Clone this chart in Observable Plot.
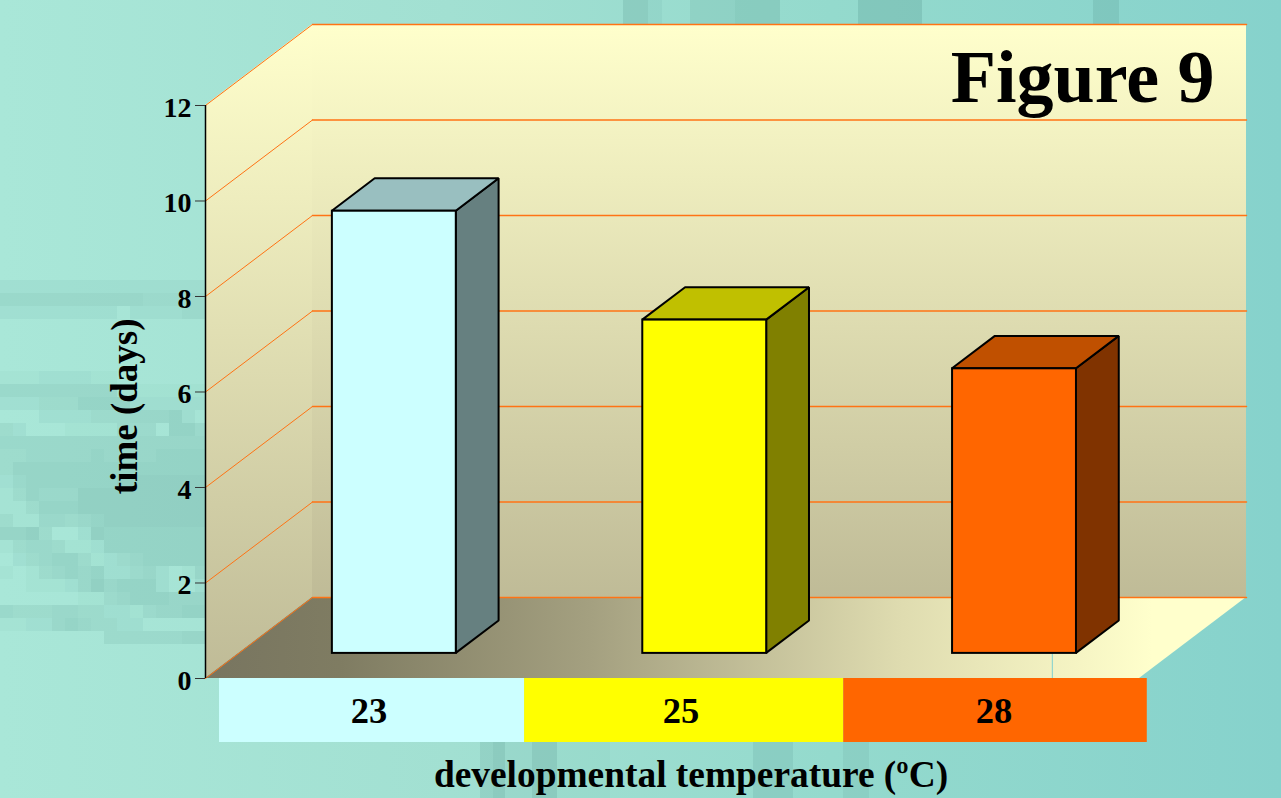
<!DOCTYPE html>
<html>
<head>
<meta charset="utf-8">
<script src="https://cdn.jsdelivr.net/npm/d3@7"></script>
<script src="https://cdn.jsdelivr.net/npm/@observablehq/plot@0.6"></script>
<style>
  html, body { margin: 0; padding: 0; overflow: hidden; }
  body { width: 1281px; height: 798px; position: relative;
         background: linear-gradient(90deg, #a9e7d8 0%, #a2e0d2 35%, #94dacd 65%, #86d2cc 100%); }
  #texture { position: absolute; inset: 0; }
  #texture div { position: absolute; background: #4f8f86; }
  #chart { position: absolute; left: 0; top: 0; }
</style>
</head>
<body>
<div id="texture"></div>
<div id="chart"></div>
<script>
// Chart values
const temperatures = ["23", "25", "28"];
const days = [9.26, 6.98, 5.96];
const barCentres = [0.5, 1.497, 2.492];
const frontColors = ["#ccffff", "#ffff00", "#ff6600"];
const topColors = ["#99bfc0", "#c0c000", "#c05000"];
const sideColors = ["#668080", "#808000", "#803300"];
const yTicks = [0, 2, 4, 6, 8, 10, 12];

// Oblique projection: one unit of depth moves along both scales.
const depthX = 0.3437;   // category slots per unit of depth
const depthY = 1.696;    // days per unit of depth
const barHalfWidth = 0.199;
const barFront = 0.31;
const barBack = 0.71;
const px = (s, d) => s + d * depthX;
const py = (v, d) => v + d * depthY;

// Colour table under the floor, in category-slot and day units.
const tableEdges = [0.045, 1.025, 2.05, 3.025];
const tableBottom = -1.34;
const tableCentres = [0.525, 1.527, 2.533];

// Blocky mottling of the page backdrop. Each digit is the strength of one 13px cell.
const mottleLeft = [
  "2222222222222222",
  "4444444444433333",
  "2222222220222233",
  "0000000000000000",
  "0000000000000000",
  "0000000000000000",
  "0000000000000000",
  "1112222110000000",
  "4444444441111111",
  "2223335555222222",
  "0002222333444520",
  "3200011113330553",
  "4444444444444444",
  "3344444544445555",
  "3555555555555555",
  "2455555556666666",
  "1354446666666666",
  "1135556666666666",
  "3114434566666666",
  "5563002655555555",
  "1344311255555555",
  "0234553123455555",
  "1013454522342014",
  "0011124645552002",
  "0000001134555444",
  "4333443322134455",
  "1122454332200000",
  "0000000033333344"
];
// Vertical strips along the top and bottom edges: left, width, strength.
const mottleTop = [[623,25,5],[648,14,2],[690,45,3],[735,45,5],[858,64,6],[1093,26,5]];
const mottleBottom = [[480,13,4],[493,12,6],[505,27,2],[532,25,6],[557,53,1],[753,40,4],[843,26,3]];

const texture = document.getElementById("texture");
function addBlock(l, t, w, h, strength) {
  if (!strength) return;
  const block = document.createElement("div");
  block.style.cssText = `left:${l}px;top:${t}px;width:${w}px;height:${h}px;opacity:${strength * 0.04}`;
  texture.appendChild(block);
}
mottleLeft.forEach((row, r) => {
  [...row].forEach((c, i) => addBlock(i * 13, 280 + r * 13, 13, 13, +c));
});
for (const [l, w, s] of mottleTop) addBlock(l, 0, w, 24, s);
for (const [l, w, s] of mottleBottom) addBlock(l, 742, w, 56, s);

// Gradient definitions for the walls and floor.
function gradients() {
  const defs = d3.create("svg:defs");
  const wall = defs.append("linearGradient").attr("id", "wall")
    .attr("x1", 0).attr("y1", 0).attr("x2", 0).attr("y2", 1);
  wall.append("stop").attr("offset", 0).attr("stop-color", "#ffffcc");
  wall.append("stop").attr("offset", 1).attr("stop-color", "#bfbb97");
  const floor = defs.append("linearGradient").attr("id", "floor")
    .attr("x1", 0).attr("y1", 0).attr("x2", 1).attr("y2", 0);
  const floorStops = [[0, "#787560"], [0.13, "#7f7c62"], [0.37, "#a4a080"], [0.67, "#dfdcb0"], [0.91, "#ffffcc"], [1, "#ffffcc"]];
  for (const [o, c] of floorStops) floor.append("stop").attr("offset", o).attr("stop-color", c);
  return defs.node();
}

const slots = temperatures.length;
const bars = temperatures.map((t, i) => ({
  x1: barCentres[i] - barHalfWidth, x2: barCentres[i] + barHalfWidth, v: days[i],
  front: frontColors[i], top: topColors[i], side: sideColors[i]
}));
const barStroke = { stroke: "#000", strokeWidth: 2, strokeLinejoin: "miter" };
const gridColor = "#ff7314";

const plot = Plot.plot({
  width: 1281, height: 798,
  marginLeft: 205, marginRight: 35, marginTop: 24, marginBottom: 120,
  x: { domain: [0, slots + depthX], axis: null },
  y: { domain: [0, 12 + depthY], axis: null },
  style: { background: "transparent", fontFamily: "'Liberation Serif', serif", fontWeight: "bold", color: "#000" },
  marks: [
    gradients,
    // Back wall
    Plot.rect([0], { x1: px(0, 1), x2: px(slots, 1), y1: py(0, 1), y2: py(12, 1), fill: "url(#wall)" }),
    // Side wall
    Plot.areaY([0, 1], { x: d => px(0, d), y1: d => py(0, d), y2: d => py(12, d), fill: "url(#wall)" }),
    // Floor
    Plot.areaX([0, 1], { y: d => py(0, d), x1: d => px(0, d), x2: d => px(slots, d), fill: "url(#floor)" }),
    // Gridlines along the back wall and the side wall
    ...yTicks.map(v => Plot.line([px(0, 1), px(slots, 1)], { x: d => d, y: () => py(v, 1), stroke: gridColor, strokeWidth: 1.5 })),
    ...yTicks.map(v => Plot.line([0, 1], { x: d => px(0, d), y: d => py(v, d), stroke: gridColor, strokeWidth: 1 })),
    // Thin leader under the last bar
    Plot.ruleX([2.72], { y1: 0, y2: 0.52, stroke: "#7fd0d0", strokeWidth: 1 }),
    // Value axis
    Plot.ruleX([0], { y1: 0, y2: 12, stroke: "#000", strokeWidth: 1.5 }),
    Plot.axisY({ ticks: yTicks, tickSize: 10, text: null, label: null, stroke: "#333" }),
    Plot.axisY({ ticks: yTicks, tickSize: 0, tickPadding: 14, dy: 2.5, fontSize: 28, label: null }),
    Plot.text(["time (days)"], { frameAnchor: "left", y: 5.7, dx: -80, rotate: -90, textAnchor: "middle", fontSize: 37, fill: "#000" }),
    // Bars: side face, top face, front face
    ...bars.flatMap(b => [
      Plot.areaY([barFront, barBack], {
        x: d => px(b.x2, d), y1: d => py(0, d), y2: d => py(b.v, d), fill: b.side, ...barStroke
      }),
      Plot.areaX([barFront, barBack], {
        y: d => py(b.v, d), x1: d => px(b.x1, d), x2: d => px(b.x2, d), fill: b.top, ...barStroke
      }),
      Plot.rect([b], {
        x1: px(b.x1, barFront), x2: px(b.x2, barFront),
        y1: py(0, barFront), y2: py(b.v, barFront), fill: b.front, ...barStroke
      })
    ]),
    // Colour-keyed table of temperatures
    Plot.rect(temperatures, {
      x1: (d, i) => tableEdges[i], x2: (d, i) => tableEdges[i + 1],
      y1: 0, y2: tableBottom, fill: (d, i) => frontColors[i], inset: 0
    }),
    Plot.text(temperatures, {
      x: (d, i) => tableCentres[i], y: tableBottom / 2, text: d => d, dy: 1, fontSize: 36.5, fill: "#000"
    }),
    Plot.text(["developmental temperature (ºC)"], {
      frameAnchor: "bottom", dx: -35, dy: 108, fontSize: 37.4, fill: "#000"
    }),
    Plot.text(["Figure 9"], {
      frameAnchor: "top-right", dx: -32, dy: 25, fontSize: 74, fill: "#000"
    })
  ]
});
document.getElementById("chart").appendChild(plot);
</script>
</body>
</html>
